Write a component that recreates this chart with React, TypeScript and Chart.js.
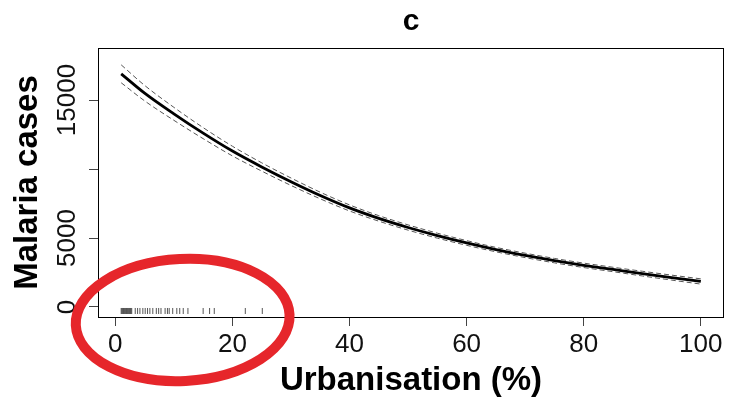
import { useEffect, useRef } from 'react';
import { Chart, registerables } from 'chart.js';

Chart.register(...registerables);

// ---- data ----
const urbanisation = [1, 5, 10, 15, 20, 25, 30, 35, 40, 45, 50, 55, 60, 65, 70, 75, 80, 85, 90, 95, 100];
const fittedCases = [16900, 15500, 14000, 12600, 11300, 10150, 9080, 8080, 7180, 6420, 5760, 5170, 4640, 4160, 3740, 3360, 3020, 2720, 2420, 2130, 1850];
const upperCI = [17550, 16060, 14470, 13000, 11650, 10450, 9350, 8320, 7400, 6620, 5950, 5350, 4810, 4320, 3900, 3520, 3180, 2880, 2590, 2310, 2040];
const lowerCI = [16250, 14940, 13530, 12200, 10950, 9850, 8810, 7840, 6960, 6220, 5570, 4990, 4470, 4000, 3580, 3200, 2860, 2560, 2250, 1950, 1660];

// observed urbanisation values shown as the rug
const rugUrbanisation = [
  1.0, 1.1, 1.2, 1.3, 1.4, 1.5, 1.6, 1.7, 1.8, 1.9, 2.0, 2.1, 2.2, 2.3, 2.4, 2.5, 2.6, 2.7, 2.8,
  3.4, 3.8, 4.2, 4.7, 5.1, 5.5, 5.9, 6.4, 7.0, 7.4, 7.8, 8.5, 8.9, 9.2, 9.8,
  10.5, 11.0, 11.6, 12.4, 15.0, 16.1, 16.9, 22.2, 25.1,
];
const rugLevel = -290;

const xTicks = [0, 20, 40, 60, 80, 100];
const yTicks = [0, 5000, 10000, 15000];
const yTickLabels = ['0', '5000', '', '15000'];

const chartTitle = 'c';
const xTitle = 'Urbanisation (%)';
const yTitle = 'Malaria cases';

// highlight annotation (red ellipse) centre in data units
const highlightCentre = { x: 11.5, y: -940 };

const FONT = '"Liberation Sans", Arial, Helvetica, sans-serif';

const framePlugin = {
  id: 'frameAndHighlight',
  afterDraw(chart: any) {
    const { ctx, chartArea, scales } = chart;
    ctx.save();
    // plot frame
    ctx.strokeStyle = '#000';
    ctx.lineWidth = 1;
    const l = Math.round(chartArea.left) + 0.5;
    const r = Math.round(chartArea.right) - 0.5;
    const t = Math.round(chartArea.top) + 0.5;
    const b = Math.round(chartArea.bottom) + 0.5;
    ctx.strokeRect(l, t, r - l, b - t);
    // red ellipse annotation
    const cx = scales.x.getPixelForValue(highlightCentre.x);
    const cy = scales.y.getPixelForValue(highlightCentre.y);
    ctx.strokeStyle = '#e6262b';
    ctx.lineWidth = 10;
    ctx.beginPath();
    ctx.ellipse(cx, cy, 107, 61, -0.05, 0, Math.PI * 2);
    ctx.stroke();
    ctx.restore();
  },
};

export default function App() {
  const canvasRef = useRef<HTMLCanvasElement | null>(null);

  useEffect(() => {
    document.body.style.margin = '0';
    const canvas = canvasRef.current;
    if (!canvas) return;

    const toPts = (ys: number[]) => urbanisation.map((x, i) => ({ x, y: ys[i] }));

    const chart = new Chart(canvas, {
      type: 'scatter',
      data: {
        datasets: [
          {
            label: 'upper',
            data: toPts(upperCI),
            showLine: true,
            borderColor: '#555',
            borderWidth: 1,
            borderDash: [5, 3],
            pointRadius: 0,
            cubicInterpolationMode: 'monotone',
          },
          {
            label: 'lower',
            data: toPts(lowerCI),
            showLine: true,
            borderColor: '#555',
            borderWidth: 1,
            borderDash: [5, 3],
            pointRadius: 0,
            cubicInterpolationMode: 'monotone',
          },
          {
            label: 'fit',
            data: toPts(fittedCases),
            showLine: true,
            borderColor: '#000',
            borderWidth: 2.8,
            pointRadius: 0,
            cubicInterpolationMode: 'monotone',
          },
          {
            label: 'rug',
            data: rugUrbanisation.map((x) => ({ x, y: rugLevel })),
            showLine: false,
            pointStyle: 'line',
            rotation: 90,
            pointRadius: 3,
            borderColor: '#555',
            borderWidth: 1,
          },
        ],
      },
      options: {
        responsive: false,
        animation: false,
        devicePixelRatio: 1,
        layout: { padding: { left: 0, right: 2, top: 0, bottom: 0 } },
        plugins: {
          legend: { display: false },
          tooltip: { enabled: false },
          title: {
            display: true,
            text: chartTitle,
            fullSize: false,
            color: '#000',
            font: { family: FONT, size: 30, weight: 'bold', lineHeight: 1.2 },
            padding: { top: 4, bottom: 8 },
          },
        },
        scales: {
          x: {
            type: 'linear',
            min: -2.96,
            max: 103.96,
            afterBuildTicks: (scale: any) => {
              scale.ticks = xTicks.map((v) => ({ value: v }));
            },
            afterFit: (scale: any) => {
              scale.height = 84;
            },
            border: { display: false },
            grid: {
              drawOnChartArea: false,
              drawTicks: true,
              tickLength: 9,
              tickColor: '#444',
              tickWidth: 1,
            },
            ticks: {
              autoSkip: false,
              maxRotation: 0,
              padding: 3,
              color: '#111',
              font: { family: FONT, size: 26, lineHeight: 1.2 },
              callback: (v: any) => String(v),
            },
            title: {
              display: true,
              text: xTitle,
              color: '#000',
              font: { family: FONT, size: 33, weight: 'bold', lineHeight: 1.2 },
              padding: { top: 0, bottom: 0 },
            },
          },
          y: {
            type: 'linear',
            min: -725,
            max: 18770,
            afterBuildTicks: (scale: any) => {
              scale.ticks = yTicks.map((v) => ({ value: v }));
            },
            afterFit: (scale: any) => {
              scale.width = 98;
            },
            border: { display: false },
            grid: {
              drawOnChartArea: false,
              drawTicks: true,
              tickLength: 9,
              tickColor: '#444',
              tickWidth: 1,
            },
            ticks: {
              autoSkip: false,
              minRotation: 90,
              maxRotation: 90,
              crossAlign: 'center',
              padding: -15,
              color: '#111',
              font: { family: FONT, size: 26, lineHeight: 1.2 },
              callback: (_v: any, i: number) => yTickLabels[i],
            },
            title: {
              display: true,
              text: yTitle,
              color: '#000',
              font: { family: FONT, size: 33, weight: 'bold', lineHeight: 1.2 },
              padding: { top: 8, bottom: 0 },
            },
          },
        },
      },
      plugins: [framePlugin],
    } as any);

    return () => chart.destroy();
  }, []);

  return (
    <div style={{ position: 'absolute', left: 0, top: 0, width: 729, height: 401, background: '#fff' }}>
      <canvas ref={canvasRef} width={729} height={401} style={{ width: 729, height: 401 }} />
    </div>
  );
}
